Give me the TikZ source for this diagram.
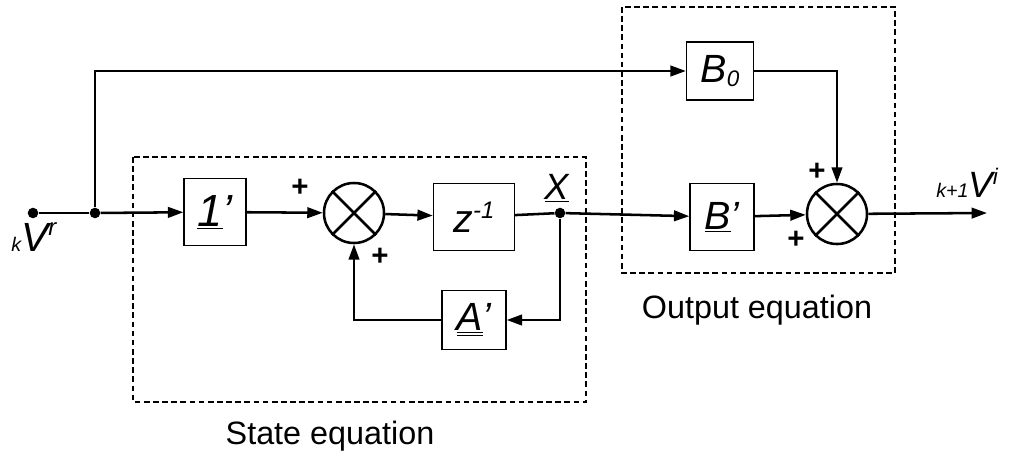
\documentclass[tikz,border=0pt]{standalone}
\usepackage{fontspec}
\setmainfont{Liberation Sans}
\usetikzlibrary{arrows.meta}

\tikzset{
  block/.style={draw, line width=0.9pt, inner sep=0pt,
                font=\fontsize{28}{30}\selectfont\itshape},
  summer/.style={circle, draw, line width=1.8pt, minimum size=1.5cm, inner sep=0pt},
  junction/.style={circle, fill, inner sep=0pt, minimum size=7.5pt},
  wire/.style={line width=1.8pt},
  signal/.style={wire, -{Triangle[length=11pt,width=7.5pt]}},
  region/.style={draw, line width=0.8pt, dash pattern=on 4pt off 2.5pt},
  sign/.style={font=\fontsize{21}{21}\selectfont\bfseries},
  caption/.style={font=\fontsize{23}{25}\selectfont},
}

\begin{document}
\begin{tikzpicture}[x=0.025cm, y=-0.025cm]
  \useasboundingbox (0,0) rectangle (1012,454);

  % Dashed regions and their captions
  \draw[region] (133,157) rectangle (586,402);
  \draw[region] (622,7) rectangle (895,273);
  \node[caption] (statelbl) at (330,436) {State equation};
  \node[caption] (outlbl) at (757,310) {Output equation};

  % Blocks and summing junctions
  \node[block, minimum width=1.55cm, minimum height=1.675cm,
        font=\fontsize{32}{34}\selectfont\itshape] (one) at (215,212) {\underline{1}’};
  \node[summer] (sum1) at (354,213) {};
  \node[block, minimum width=2.025cm, minimum height=1.675cm] (delay) at (474,217)
    {z\raisebox{10pt}{\fontsize{17}{17}\selectfont -1}};
  \node[block, minimum width=1.6cm, minimum height=1.475cm] (amat) at (474,320)
    {\underline{\underline{A}}’};
  \node[block, minimum width=1.675cm, minimum height=1.45cm] (bzero) at (720,71)
    {B\raisebox{-3pt}{\fontsize{16}{16}\selectfont 0}};
  \node[block, minimum width=1.6cm, minimum height=1.675cm] (bmat) at (722,217)
    {\underline{B}’};
  \node[summer] (sum2) at (837,214) {};
  \foreach \s in {sum1, sum2}
    \draw[wire] (\s.north west) -- (\s.south east) (\s.north east) -- (\s.south west);

  % Junction dots
  \node[junction] (in) at (33,213) {};
  \node[junction] (branch) at (95,213) {};
  \node[junction] (xdot) at (560,213) {};
  \coordinate (out) at (987,213);

  % Signal flow
  \draw[wire] (in) -- (branch);
  \draw[signal] (branch) -- (one);
  \draw[signal] (branch) |- (bzero);
  \draw[signal] (one) -- (sum1);
  \draw[signal] (sum1) -- (delay);
  \draw[wire] (delay) -- (xdot);
  \draw[signal] (xdot) -- (bmat);
  \draw[signal] (xdot) |- (amat);
  \draw[signal] (amat) -| (sum1);
  \draw[signal] (bzero) -| (sum2);
  \draw[signal] (bmat) -- (sum2);
  \draw[signal] (sum2) -- (out);

  % Signs
  \node[sign] (p1) at (300,188) {+};
  \node[sign] (p2) at (380,257) {+};
  \node[sign] (p3) at (817,172) {+};
  \node[sign] (p4) at (796,240) {+};

  % Signal labels
  \node[font=\fontsize{26}{28}\selectfont\itshape] (xlbl) at (557,188) {\underline{X}};
  \node[anchor=base west, inner sep=0pt] (inlbl) at (11,251)
    {{\fontsize{14}{14}\selectfont\itshape k}{\fontsize{29}{29}\selectfont\itshape V}%
     \raisebox{11pt}{\fontsize{17}{17}\selectfont\itshape r}};
  \node[anchor=base west, inner sep=0pt] (outlbl2) at (936,197)
    {{\fontsize{14}{14}\selectfont\itshape k+1}{\fontsize{26}{26}\selectfont\itshape V}%
     \raisebox{9pt}{\fontsize{16}{16}\selectfont\itshape i}};
\end{tikzpicture}
\end{document}
